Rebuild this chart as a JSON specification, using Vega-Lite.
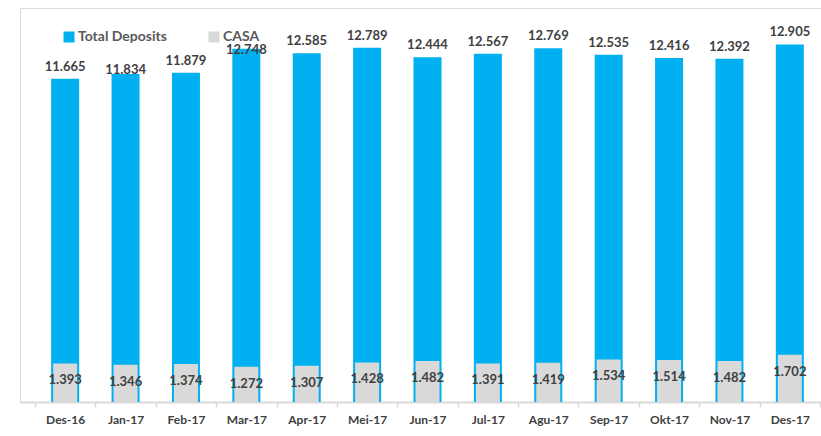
{
  "$schema": "https://vega.github.io/schema/vega-lite/v6.json",
  "autosize": "none",
  "width": 815,
  "height": 394,
  "padding": {"left": 20, "top": 8, "right": 0, "bottom": 34},
  "background": "white",
  "config": {
    "view": {"stroke": "#d9d9d9", "strokeWidth": 1},
    "font": "Lato"
  },
  "data": {
    "values": [
      {"month": "Des-16", "total": 11.665, "casa": 1.393},
      {"month": "Jan-17", "total": 11.834, "casa": 1.346},
      {"month": "Feb-17", "total": 11.879, "casa": 1.374},
      {"month": "Mar-17", "total": 12.748, "casa": 1.272},
      {"month": "Apr-17", "total": 12.585, "casa": 1.307},
      {"month": "Mei-17", "total": 12.789, "casa": 1.428},
      {"month": "Jun-17", "total": 12.444, "casa": 1.482},
      {"month": "Jul-17", "total": 12.567, "casa": 1.391},
      {"month": "Agu-17", "total": 12.769, "casa": 1.419},
      {"month": "Sep-17", "total": 12.535, "casa": 1.534},
      {"month": "Okt-17", "total": 12.416, "casa": 1.514},
      {"month": "Nov-17", "total": 12.392, "casa": 1.482},
      {"month": "Des-17", "total": 12.905, "casa": 1.702}
    ]
  },
  "encoding": {
    "x": {
      "field": "month",
      "type": "nominal",
      "sort": null,
      "scale": {"paddingInner": 0, "paddingOuter": 0.248},
      "axis": {
        "title": null,
        "labelAngle": 0,
        "labelFont": "Lato",
        "labelFontSize": 12,
        "labelFontWeight": "bold",
        "labelColor": "#404040",
        "labelPadding": 7,
        "domainColor": "#d9d9d9",
        "domainWidth": 2,
        "tickColor": "#d9d9d9",
        "tickWidth": 1.5,
        "tickSize": 5,
        "tickBand": "extent"
      }
    }
  },
  "layer": [
    {
      "mark": {"type": "bar", "size": 28},
      "encoding": {
        "y": {
          "field": "total",
          "type": "quantitative",
          "scale": {"domain": [0, 14.22], "nice": false},
          "axis": null
        },
        "color": {
          "datum": "Total Deposits",
          "type": "nominal",
          "scale": {"domain": ["Total Deposits", "CASA"], "range": ["#00B0F0", "#D9D9D9"]},
          "legend": {
            "title": null,
            "orient": "none",
            "direction": "horizontal",
            "legendX": 42,
            "legendY": 22,
            "symbolType": "square",
            "symbolSize": 121,
            "symbolStrokeWidth": 0,
            "labelFont": "Lato",
            "labelFontSize": 14,
            "labelFontWeight": "bold",
            "labelColor": "#595959",
            "labelOffset": 2,
            "columnPadding": 40
          }
        }
      }
    },
    {
      "mark": {"type": "bar", "size": 24},
      "encoding": {
        "y": {"field": "casa", "type": "quantitative"},
        "color": {"datum": "CASA", "type": "nominal"}
      }
    },
    {
      "transform": [{"filter": "datum.month !== 'Jan-17' && datum.month !== 'Mar-17'"}],
      "mark": {"type": "text", "baseline": "bottom", "dy": -5, "font": "Lato", "fontSize": 13, "fontWeight": "bold", "color": "#404040"},
      "encoding": {
        "y": {"field": "total", "type": "quantitative"},
        "text": {"field": "total", "type": "quantitative", "format": ".3f"}
      }
    },
    {
      "transform": [{"filter": "datum.month === 'Jan-17'"}],
      "mark": {"type": "text", "baseline": "middle", "dy": -4, "font": "Lato", "fontSize": 13, "fontWeight": "bold", "color": "#404040"},
      "encoding": {
        "y": {"field": "total", "type": "quantitative"},
        "text": {"field": "total", "type": "quantitative", "format": ".3f"}
      }
    },
    {
      "transform": [{"filter": "datum.month === 'Mar-17'"}],
      "mark": {"type": "text", "baseline": "middle", "dy": 1, "font": "Lato", "fontSize": 13, "fontWeight": "bold", "color": "#404040"},
      "encoding": {
        "y": {"field": "total", "type": "quantitative"},
        "text": {"field": "total", "type": "quantitative", "format": ".3f"}
      }
    },
    {
      "mark": {"type": "text", "baseline": "middle", "dy": 17, "font": "Lato", "fontSize": 13, "fontWeight": "bold", "color": "#404040"},
      "encoding": {
        "y": {"field": "casa", "type": "quantitative"},
        "text": {"field": "casa", "type": "quantitative", "format": ".3f"}
      }
    }
  ]
}
